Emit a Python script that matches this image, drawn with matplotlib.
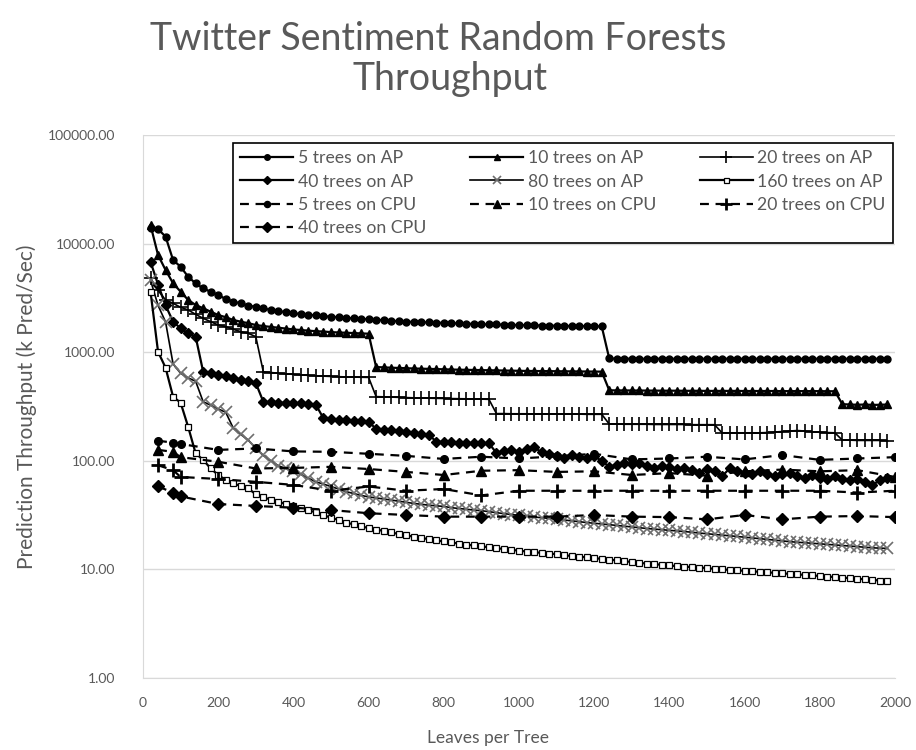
import matplotlib
matplotlib.use("Agg")
import matplotlib.pyplot as plt
from matplotlib.ticker import FixedLocator, FuncFormatter, NullLocator

plt.rcParams['font.family'] = ['Lato', 'DejaVu Sans']

# leaves per tree
leaves_ap = list(range(20, 2000, 20))
leaves_cpu = [40, 80, 100, 200, 300, 400, 500, 600, 700, 800, 900, 1000,
              1100, 1200, 1300, 1400, 1500, 1600, 1700, 1800, 1900, 2000]

# k pred / sec, AP runs
ap_5 = [13800, 13600, 11600, 7060, 6120, 4960, 4300, 3870, 3600, 3360,
        3090, 2920, 2820, 2680, 2620, 2530, 2450, 2400, 2330, 2280,
        2250, 2210, 2180, 2150, 2120, 2100, 2070, 2050, 2030, 2010,
        1990, 1970, 1950, 1930, 1910, 1900, 1890, 1880, 1870, 1860,
        1850, 1840, 1830, 1820, 1810, 1800, 1800, 1790, 1780, 1780,
        1770, 1770, 1760, 1760, 1750, 1750, 1740, 1740, 1740, 1730,
        1730,
        875, 872, 870, 872, 870, 868, 870, 871, 869, 870,
        870, 868, 870, 869, 870, 871, 870, 869, 870, 868,
        870, 870, 869, 871, 870, 868, 870, 870, 869, 870,
        871, 870, 869, 870, 868, 870, 870, 869]
ap_10 = [14800, 7850, 5720, 4310, 3610, 3030, 2720, 2540, 2360, 2200,
         2100, 1980, 1910, 1850, 1780, 1740, 1710, 1680, 1650, 1620,
         1600, 1580, 1560, 1550, 1530, 1520, 1510, 1500, 1490, 1480,
         730, 725, 720, 716, 712, 708, 705, 702, 699, 696,
         693, 690, 688, 686, 684, 682, 680, 678, 676, 674,
         672, 671, 670, 669, 668, 667, 666, 665, 664, 663, 662,
         446, 445, 445, 444, 444, 443, 443, 442, 442, 442,
         441, 441, 441, 440, 440, 440, 440, 440, 439, 439,
         439, 439, 439, 438, 438, 438, 438, 438, 438, 437, 437,
         332, 330, 328, 330, 327, 328, 330]
ap_20 = [4800, 3700, 3030, 2820, 2590, 2450, 2230, 2050, 1910, 1780,
         1720, 1625, 1545, 1490, 1390,
         660, 650, 640, 632, 625, 618, 612, 607, 602, 598, 595, 592, 590, 588, 586,
         390, 388, 386, 384, 382, 380, 378, 377, 376, 375, 374, 373, 372, 371, 370, 368,
         272, 272, 271, 271, 271, 270, 270, 270, 270, 269, 269, 269, 268, 268, 268,
         218, 218, 217, 217, 217, 217, 216, 216, 216, 216, 216, 215, 215, 215, 215,
         181, 181, 181, 181, 181, 181, 182, 184, 186, 188, 190, 188, 185, 183, 182, 181,
         155, 155, 154, 154, 154, 154, 153]
ap_40 = [6800, 4200, 2700, 1910, 1660, 1490, 1390,
         661, 640, 620, 600, 580, 560, 540, 520,
         350, 345, 343, 341, 339, 337, 333, 327,
         246, 243, 240, 237, 234, 232, 230,
         196, 194, 192, 190, 186, 182, 178, 174,
         150, 149, 148, 147, 146, 146, 145, 145,
         118, 122, 125, 120, 128, 133, 120, 115, 110, 106,
         112, 108, 105, 110, 100, 88, 92, 96, 93, 95,
         90, 86, 90, 88, 84, 86, 82, 78, 84, 80,
         72, 85, 80, 78, 76, 80, 76, 72, 75, 78,
         72, 70, 74, 70, 68, 72, 68, 66, 68, 64,
         60, 66, 70]
ap_80 = [4600, 2700, 1900, 780, 640, 580, 540, 350, 325, 300,
         280, 200, 175, 155, 130, 112, 100, 90, 85, 80,
         75, 69, 64, 61, 58, 55, 52, 50, 48, 46.5,
         45.5, 44.5, 43.5, 42.5, 41.5, 40.5, 39.8, 39, 38.5, 38,
         37, 36.4, 35.8, 35.2, 34.7, 34, 33.3, 32.6, 32, 31.5,
         31, 30.4, 29.9, 29.5, 29, 28.5, 28, 27.5, 27, 26.6,
         26.2, 25.8, 25.4, 25, 24.6, 24.2, 23.8, 23.5, 23.2, 22.9,
         22.6, 22.3, 22, 21.6, 21.3, 21, 20.7, 20.4, 20.1, 19.8,
         19.5, 19.2, 18.9, 18.6, 18.3, 18, 17.8, 17.6, 17.4, 17.2,
         17, 16.8, 16.6, 16.4, 16.2, 16, 15.8, 15.7, 15.6]
ap_160 = [3610, 1010, 720, 389, 343, 206, 117, 102, 85, 74,
          66.6, 62, 58.6, 55.8, 49, 46, 44, 42, 40, 38.5,
          37, 35, 33.5, 31.5, 30, 28.5, 27, 26, 25, 24,
          23.3, 22.6, 21.9, 21.2, 20.6, 20, 19.5, 19, 18.5, 18.1,
          17.7, 17.3, 16.9, 16.6, 16.3, 16, 15.7, 15.4, 15.1, 14.9,
          14.6, 14.4, 14.2, 14, 13.8, 13.5, 13.3, 13.1, 12.9, 12.7,
          12.5, 12.3, 12.1, 11.9, 11.7, 11.5, 11.3, 11.2, 11, 10.9,
          10.7, 10.6, 10.5, 10.4, 10.3, 10.1, 10, 9.9, 9.8, 9.7,
          9.6, 9.5, 9.4, 9.3, 9.2, 9.1, 9.0, 8.9, 8.8, 8.7,
          8.6, 8.5, 8.4, 8.3, 8.2, 8.1, 8.0, 7.9, 7.8]

# k pred / sec, CPU runs
cpu_5 = [153, 147, 143, 126, 130, 122, 121, 116, 111, 104, 109,
         105, 110, 116, 103, 105, 109, 103, 113, 102, 105, 108]
cpu_10 = [126, 121, 108, 98, 85, 86, 88, 84, 79, 74, 81,
          82, 79, 80, 74, 77, 73, 80, 83, 80, 82, 71]
cpu_20 = [91, 82, 71, 68, 64, 60, 53, 58, 53, 55, 48,
          53, 53, 53, 53, 53, 53, 53, 53, 53, 51, 53]
cpu_40 = [58, 51, 47, 40, 38.4, 37, 35.2, 32.9, 31.7, 30.6, 30.6,
          30.6, 30.6, 31.7, 30.6, 30.3, 28.9, 31.7, 28.9, 30.6, 31, 30.3]

fig = plt.figure(figsize=(9.16, 7.5), dpi=100)
ax = fig.add_axes([143/916, 1-678/750, 752/916, 543/750])

grey = '#595959'
lw = 1.6
dash = (0, (4, 3))

h = {}
h['5ap'], = ax.plot(leaves_ap, ap_5, color='black', lw=lw, marker='o', ms=5,
                   label='5 trees on AP')
h['10ap'], = ax.plot(leaves_ap, ap_10, color='black', lw=lw, marker='^', ms=5.5,
                    label='10 trees on AP')
h['20ap'], = ax.plot(leaves_ap, ap_20, color='black', lw=1.2, marker='+', ms=10,
                    mew=1.2, label='20 trees on AP')
h['40ap'], = ax.plot(leaves_ap, ap_40, color='black', lw=lw, marker='D', ms=5,
                    label='40 trees on AP')
h['80ap'], = ax.plot(leaves_ap, ap_80, color='black', lw=1.2, marker='x', ms=8,
                    mec='#6e6e6e', mew=1.2, label='80 trees on AP')
h['160ap'], = ax.plot(leaves_ap, ap_160, color='black', lw=lw, marker='s', ms=4.5,
                     mfc='white', mec='black', mew=0.9, label='160 trees on AP')
h['5cpu'], = ax.plot(leaves_cpu, cpu_5, color='black', lw=lw, ls=dash, marker='o',
                    ms=5.5, label='5 trees on CPU')
h['10cpu'], = ax.plot(leaves_cpu, cpu_10, color='black', lw=lw, ls=dash, marker='^',
                     ms=6.5, label='10 trees on CPU')
h['20cpu'], = ax.plot(leaves_cpu, cpu_20, color='black', lw=lw, ls=dash, marker='+',
                     ms=10, mew=2, label='20 trees on CPU')
h['40cpu'], = ax.plot(leaves_cpu, cpu_40, color='black', lw=lw, ls=dash, marker='D',
                     ms=6.5, label='40 trees on CPU')

ax.set_yscale('log')
ax.set_ylim(1, 100000)
ax.set_xlim(0, 2000)
ax.xaxis.set_major_locator(FixedLocator(range(0, 2001, 200)))
ax.yaxis.set_major_locator(FixedLocator([1, 10, 100, 1000, 10000, 100000]))
ax.yaxis.set_minor_locator(NullLocator())
ax.yaxis.set_major_formatter(FuncFormatter(lambda v, p: f"{v:.2f}"))
ax.grid(axis='y', color='#d9d9d9', lw=1)
ax.set_axisbelow(True)
ax.tick_params(length=0, labelsize=10, labelcolor=grey)
ax.tick_params(axis='y', pad=20)
ax.tick_params(axis='x', pad=14)
for s in ['top', 'right']:
    ax.spines[s].set_visible(False)
for s in ['left', 'bottom']:
    ax.spines[s].set_color('#d9d9d9')

# column-wise order for the legend so it reads row by row
order = ['5ap', '40ap', '5cpu', '40cpu', '10ap', '80ap', '10cpu',
         '20ap', '160ap', '20cpu']
leg = ax.legend([h[k] for k in order], [h[k].get_label() for k in order],
                ncol=3, loc='upper right', bbox_to_anchor=(0.997, 0.985),
                borderaxespad=0, fancybox=False, edgecolor='black',
                fontsize=12.7, handlelength=3.0, handletextpad=0.25,
                columnspacing=2.5, labelspacing=0.42, borderpad=0.4,
                markerscale=0.8, framealpha=1)
leg.get_frame().set_linewidth(1.2)
for t in leg.get_texts():
    t.set_color(grey)

fig.text(438/916, 1-39/750, 'Twitter Sentiment Random Forests', ha='center',
         va='center', fontsize=27, color=grey)
fig.text(450/916, 1-79/750, 'Throughput', ha='center', va='center',
         fontsize=27, color=grey)
fig.text(27/916, 1-407/750, 'Prediction Throughput (k Pred/Sec)', rotation=90,
         ha='center', va='center', fontsize=15, color=grey)
fig.text(488/916, 1-738/750, 'Leaves per Tree', ha='center', va='center',
         fontsize=12.5, color=grey)

fig.savefig('out.png', dpi=100)
